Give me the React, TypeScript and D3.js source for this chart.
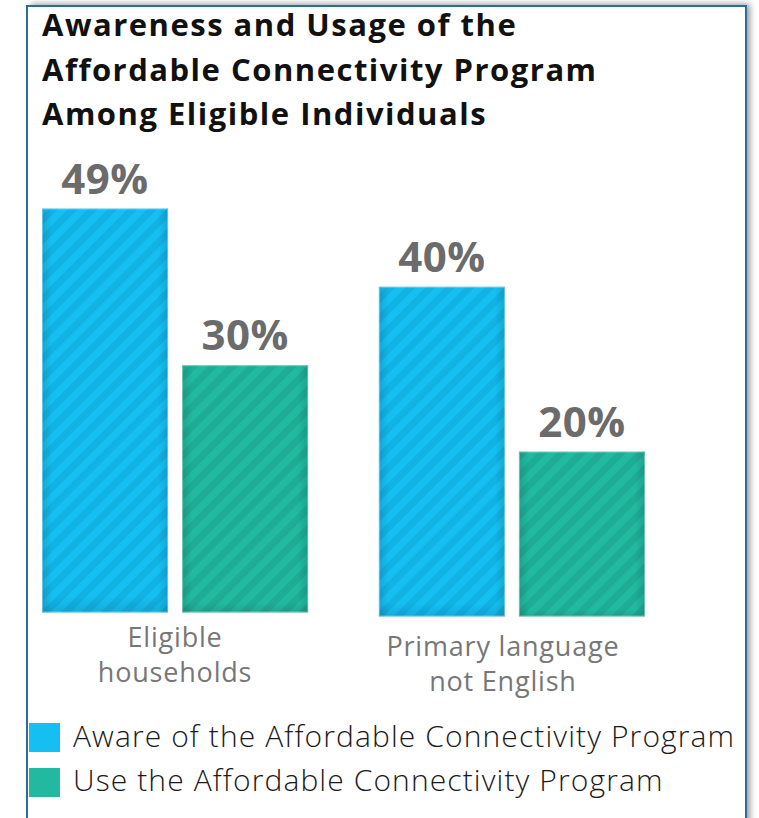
import React from "react";
import * as d3 from "d3";

// ---- data ----
const categories = ["Eligible households", "Primary language not English"];
const categoryLines = [["Eligible", "households"], ["Primary language", "not English"]];
const seriesNames = ["Aware of the Affordable Connectivity Program", "Use the Affordable Connectivity Program"];
const awareValues = [49, 40];
const useValues = [30, 20];
const titleLines = ["Awareness and Usage of the", "Affordable Connectivity Program", "Among Eligible Individuals"];

// ---- layout ----
const W = 759;
const H = 818;
const groupBase = [612.5, 616.5];
const labelBase = [647, 656];
const labelDx = [0, -9];
const colors = ["#16bff2", "#22b9a1"];
const stripeColors = ["#11b2e4", "#1eac94"];
const FONT = "'Open Sans', 'Lato', sans-serif";

export default function App() {
  const x0 = d3.scaleBand<string>().domain(categories).range([42, 645]).paddingInner(0.21).paddingOuter(0);
  const x1 = d3.scaleBand<number>().domain([0, 1]).range([0, x0.bandwidth()]).paddingInner(0.1);
  const h = d3.scaleLinear().domain([0, 49]).range([0, 404]);
  const series = [awareValues, useValues];

  return (
    <svg width={W} height={H} style={{ position: "absolute", left: 0, top: 0, background: "#fff" }}>
      <defs>
        <filter id="shadow" x="-5%" y="-5%" width="115%" height="110%">
          <feGaussianBlur stdDeviation="3" />
        </filter>
        {colors.map((c, i) => (
          <pattern key={i} id={`stripe${i}`} patternUnits="userSpaceOnUse" width="14" height="14" patternTransform="rotate(45)">
            <rect width="14" height="14" fill={c} />
            <rect width="7" height="14" fill={stripeColors[i]} />
          </pattern>
        ))}
        <linearGradient id="edgeShade" x1="0" x2="1" y1="0" y2="0">
          <stop offset="0" stopColor="#000" stopOpacity="0.12" />
          <stop offset="0.08" stopColor="#000" stopOpacity="0" />
          <stop offset="0.92" stopColor="#000" stopOpacity="0" />
          <stop offset="1" stopColor="#000" stopOpacity="0.12" />
        </linearGradient>
        <linearGradient id="bottomShade" x1="0" x2="0" y1="0" y2="1">
          <stop offset="0.96" stopColor="#000" stopOpacity="0" />
          <stop offset="1" stopColor="#000" stopOpacity="0.1" />
        </linearGradient>
      </defs>

      {/* frame with shadow */}
      <rect x={31} y={4} width={719} height={H + 20} fill="#9a9a9a" filter="url(#shadow)" />
      <rect x={27} y={6} width={719} height={H + 20} fill="#fff" stroke="#2d6d95" strokeWidth={2} />

      {/* title */}
      <g fontFamily={FONT} fontWeight={700} fontSize={31} fill="#111" letterSpacing={1.5}>
        {titleLines.map((t, i) => (
          <text key={i} x={42} y={36 + i * 44.5}>{t}</text>
        ))}
      </g>

      {/* bars */}
      {categories.map((cat, gi) => {
        const gx = x0(cat)!;
        return (
          <g key={cat}>
            {series.map((vals, si) => {
              const bx = gx + x1(si)!;
              const bh = h(vals[gi]);
              const by = groupBase[gi] - bh;
              const bw = x1.bandwidth();
              return (
                <g key={si}>
                  <rect x={bx} y={by} width={bw} height={bh} fill={`url(#stripe${si})`} />
                  <rect x={bx} y={by} width={bw} height={bh} fill="url(#edgeShade)" />
                  <rect x={bx} y={by} width={bw} height={bh} fill="url(#bottomShade)" />
                  <rect x={bx + 0.5} y={by + 0.5} width={bw - 1} height={bh - 1} fill="none" stroke="#fff" strokeOpacity={0.35} />
                  <text x={bx + bw / 2} y={by - 15} textAnchor="middle" fontFamily={FONT} fontWeight={700} fontSize={42} fill="#6b6b6b" letterSpacing={0.5}>
                    {vals[gi]}%
                  </text>
                </g>
              );
            })}
            <g fontFamily={FONT} fontSize={27} fill="#777" textAnchor="middle" letterSpacing={0.8}>
              {categoryLines[gi].map((ln, li) => (
                <text key={li} x={gx + x0.bandwidth() / 2 + labelDx[gi]} y={labelBase[gi] + li * 35}>{ln}</text>
              ))}
            </g>
          </g>
        );
      })}

      {/* legend */}
      <g fontFamily={FONT} fontWeight={300} fontSize={30} fill="#1a1a1a" letterSpacing={1.1}>
        {seriesNames.map((n, i) => (
          <g key={i}>
            <rect x={29} y={723 + i * 45} width={31} height={29} fill={colors[i]} />
            <text x={73} y={747 + i * 44}>{n}</text>
          </g>
        ))}
      </g>
    </svg>
  );
}
